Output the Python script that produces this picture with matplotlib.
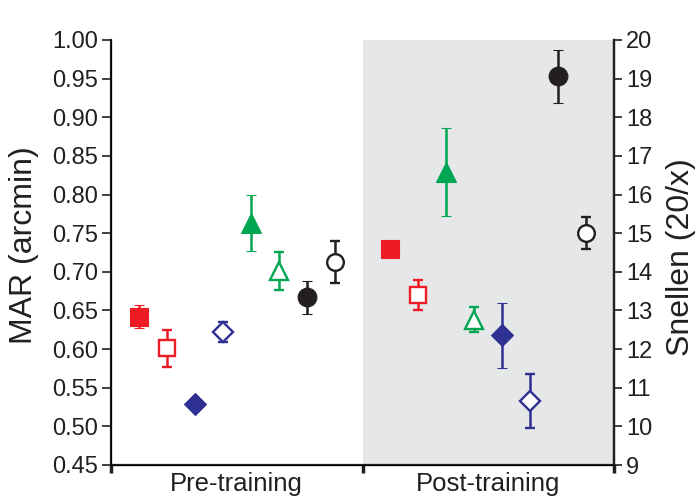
import numpy as np
import matplotlib
matplotlib.use("Agg")
import matplotlib.pyplot as plt

plt.rcParams['font.family'] = ['Liberation Sans', 'DejaVu Sans']

# data (MAR in arcmin, mean +/- error)
series = ['red_filled', 'red_open', 'blue_filled', 'blue_open',
          'green_filled', 'green_open', 'black_filled', 'black_open']
pre_mar = [0.642, 0.601, 0.529, 0.622, 0.763, 0.701, 0.667, 0.713]
pre_err = [0.015, 0.024, 0.004, 0.013, 0.036, 0.025, 0.021, 0.027]
post_mar = [0.729, 0.670, 0.618, 0.533, 0.829, 0.638, 0.953, 0.750]
post_err = [0.007, 0.019, 0.042, 0.035, 0.057, 0.016, 0.034, 0.021]
# order of each series within its group
pre_slot = [1, 2, 3, 4, 5, 6, 7, 8]
post_slot = [1, 2, 5, 6, 3, 4, 7, 8]
groups = ['Pre-training', 'Post-training']

mar_ticks = [0.45, 0.50, 0.55, 0.60, 0.65, 0.70, 0.75, 0.80, 0.85, 0.90, 0.95, 1.00]
snellen_ticks = [9, 10, 11, 12, 13, 14, 15, 16, 17, 18, 19, 20]

red = '#ed1c24'
green = '#00a651'
blue = '#2e3192'
black = '#231f20'
styles = {
    'red_filled': ('s', red, True, 13),
    'red_open': ('s', red, False, 11.5),
    'blue_filled': ('D', blue, True, 11.5),
    'blue_open': ('D', blue, False, 10),
    'green_filled': ('^', green, True, 14.5),
    'green_open': ('^', green, False, 13),
    'black_filled': ('o', black, True, 13.5),
    'black_open': ('o', black, False, 12),
}

fig = plt.figure(figsize=(6.99, 4.97), dpi=100)
ax = fig.add_axes([111 / 699, 32 / 497, 503 / 699, 425 / 497])

ax.axvspan(1, 2, color='#e6e7e8', zorder=0, lw=0)

for i, name in enumerate(series):
    m, c, filled, ms = styles[name]
    mfc = c if filled else 'white'
    for g, (vals, errs, slots) in enumerate([(pre_mar, pre_err, pre_slot),
                                               (post_mar, post_err, post_slot)]):
        x = g + slots[i] / 9
        ax.errorbar(x, vals[i], yerr=errs[i], fmt=m, color=c, mfc=mfc, mec=c,
                    ms=ms, mew=1.7 if not filled else 0.8, elinewidth=1.8,
                    capsize=3.8, capthick=1.8, zorder=3, clip_on=False)

ax.set_xlim(0, 2)
ax.set_ylim(0.45, 1.00)
ax.set_yticks(mar_ticks)
ax.set_yticklabels(['%.2f' % t for t in mar_ticks])
ax.set_xticks([0, 1, 2])
ax.set_xticklabels([])
ax.set_xticks([0.5, 1.5], minor=True)
ax.set_xticklabels(groups, minor=True, fontsize=18.5, color=black)
ax.tick_params(axis='x', which='major', direction='out', length=5.5, width=2.5, color=black)
ax.tick_params(axis='x', which='minor', length=0, pad=5)
ax.tick_params(axis='y', direction='out', length=6.5, width=1.2, pad=3,
               labelsize=17, labelcolor=black, color=black)
ax.spines['top'].set_visible(False)
for s in ['left', 'bottom', 'right']:
    ax.spines[s].set_linewidth(1.6)
    ax.spines[s].set_color(black)

ax2 = ax.twinx()
ax2.set_ylim(9, 20)
ax2.set_yticks(snellen_ticks)
ax2.tick_params(axis='y', direction='out', length=5.5, width=1.2, pad=3,
                labelsize=17, labelcolor=black, color=black)
ax2.spines['top'].set_visible(False)
ax2.spines['right'].set_linewidth(1.6)
ax2.spines['right'].set_color(black)

fig.text(24 / 699, 1 - 245 / 497, 'MAR (arcmin)', rotation=90, ha='center',
         va='center', fontsize=23, color=black)
fig.text(681 / 699, 1 - 257 / 497, 'Snellen (20/x)', rotation=90, ha='center',
         va='center', fontsize=23, color=black)

fig.savefig('out.png', dpi=100)
